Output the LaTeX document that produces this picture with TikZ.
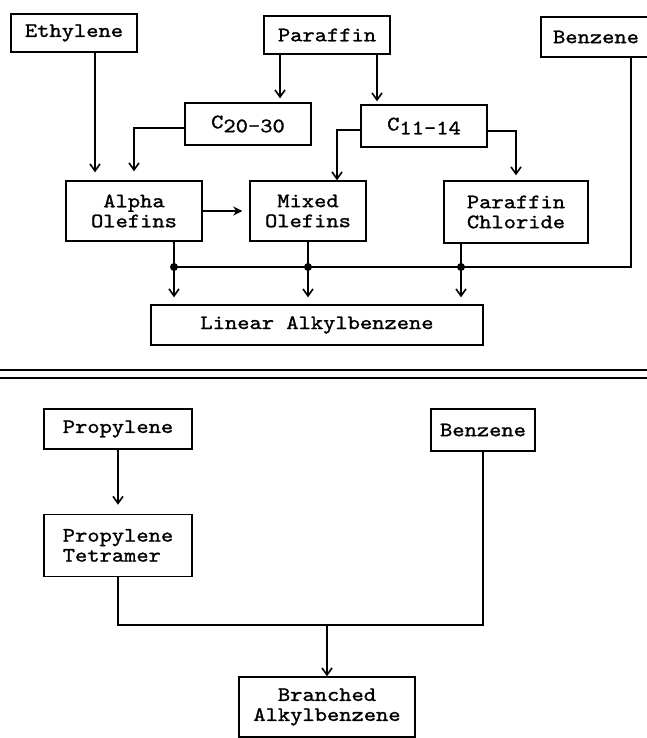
\documentclass[tikz,border=0pt]{standalone}
\usepackage{fontspec}
\setmonofont{lmmono10-regular}[Extension=.otf,FakeStretch=1.14,FakeBold=1.2]
\usepackage{tikz}
\usetikzlibrary{arrows.meta,positioning,calc}

\begin{document}
\begin{tikzpicture}[x=1pt,y=-1pt,
  box/.style={draw,line width=1.4pt,align=center,inner sep=0pt,
    font=\ttfamily\fontsize{20.5}{20}\selectfont},
  link/.style={line width=1.4pt},
  arr/.style={line width=1.6pt,-{Straight Barb[length=7pt,width=10pt]}},
  arrf/.style={line width=1.6pt,-{Stealth[length=9pt,width=9pt]}}]
\useasboundingbox (0,0) rectangle (647,738);

% upper scheme: linear alkylbenzene
\node[box,minimum width=126pt,minimum height=38pt] (eth) at (74,33) {Ethylene};
\node[box,minimum width=126pt,minimum height=38pt] (par) at (327,35) {Paraffin};
\node[box,minimum width=110pt,minimum height=40pt] (ben) at (596,37) {Benzene};
\node[box,minimum width=126pt,minimum height=42pt] (c20) at (248,124) {C\raisebox{-.45ex}{20-30}};
\node[box,minimum width=126pt,minimum height=42pt] (c11) at (424,126) {C\raisebox{-.45ex}{11-14}};
\node[box,minimum width=136pt,minimum height=60pt] (alpha) at (134,211) {Alpha\\Olefins};
\node[box,minimum width=116pt,minimum height=60pt] (mixed) at (308,211) {Mixed\\Olefins};
\node[box,minimum width=144pt,minimum height=62pt] (pcl) at (516,212) {Paraffin\\Chloride};
\node[box,minimum width=332pt,minimum height=40pt] (lab) at (317,325) {Linear Alkylbenzene};

\draw[arr,shorten >=8pt] ([xshift=21pt]eth.south) -- ([xshift=21pt]eth.south |- alpha.north);
\draw[arr,shorten >=4pt] ([xshift=-47pt]par.south) -- ([xshift=-47pt]par.south |- c20.north);
\draw[arr,shorten >=3pt] ([xshift=50pt]par.south) -- ([xshift=50pt]par.south |- c11.north);
\draw[arr,shorten >=9pt] ([yshift=-4pt]c20.west) -| (alpha.north);
\draw[arr] ([yshift=-4pt]c11.west) -| ([xshift=29pt]mixed.north);
\draw[arr,shorten >=5pt] ([yshift=-5pt]c11.east) -| (pcl.north);
\draw[arrf,shorten >=7pt] (alpha.east) -- (mixed.west);

\coordinate (bus) at (0,267);
\coordinate (j1) at ([xshift=40pt]alpha.south |- bus);
\coordinate (j2) at (mixed.south |- bus);
\coordinate (j3) at ([xshift=-55pt]pcl.south |- bus);
\draw[link] ([xshift=35pt]ben.south) |- (j1);
\draw[link] ([xshift=40pt]alpha.south) -- (j1);
\draw[link] (mixed.south) -- (j2);
\draw[link] ([xshift=-55pt]pcl.south) -- (j3);
\foreach \j in {j1,j2,j3} {
  \fill (\j) circle (4pt);
  \draw[arr,shorten >=7pt] (\j) -- (\j |- lab.north);
}

% separator
\draw[link] (0,370) -- (647,370);
\draw[link] (0,378) -- (647,378);

% lower scheme: branched alkylbenzene
\node[box,minimum width=148pt,minimum height=40pt] (prop) at (118,429) {Propylene};
\node[box,minimum width=104pt,minimum height=42pt] (ben2) at (483,430) {Benzene};
\node[box,minimum width=148pt,minimum height=62pt,align=left,below=64pt of prop] (tet) {Propylene\\Tetramer};
\node[box,minimum width=176pt,minimum height=60pt] (bab) at (327,707) {Branched\\Alkylbenzene};

\coordinate (mrg) at (0,625);
\draw[arr,shorten >=9pt] (prop) -- (tet);
\draw[link] (tet.south) |- (ben2.south |- mrg) -- (ben2.south);
\draw[arr] (bab.north |- mrg) -- (bab.north);
\end{tikzpicture}
\end{document}
